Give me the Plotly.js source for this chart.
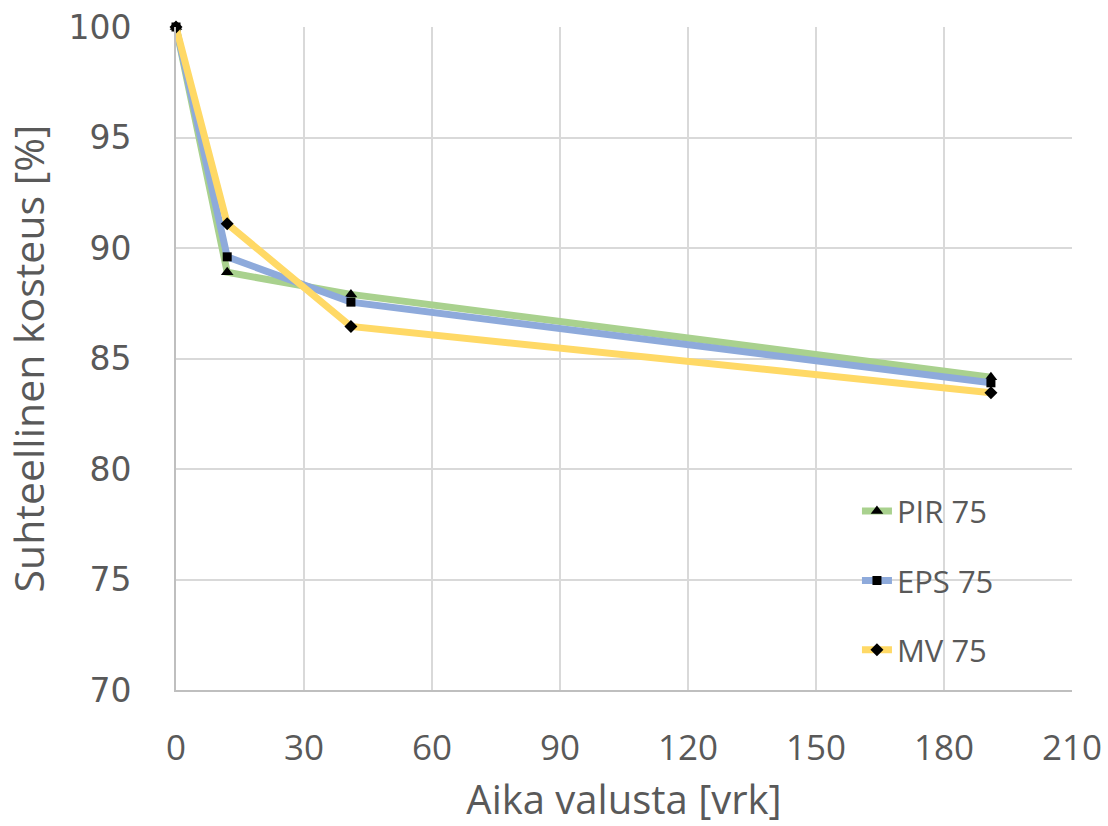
<!DOCTYPE html>
<html><head><meta charset="utf-8">
<script src="https://cdn.plot.ly/plotly-3.0.1.min.js"></script>
<style>html,body{margin:0;padding:0;background:#fff;}#chart{width:1108px;height:826px;}</style>
</head><body><div id="chart"></div>
<script>
const days = [0, 12, 41, 191];
const pir75 = [100, 88.9, 87.9, 84.15];
const eps75 = [100, 89.6, 87.55, 83.9];
const mv75 = [100, 91.1, 86.45, 83.45];
const seriesNames = ["PIR 75", "EPS 75", "MV 75"];
const xTicks = [0, 30, 60, 90, 120, 150, 180, 210];
const yTicks = [70, 75, 80, 85, 90, 95, 100];

const fnt = '"Open Sans", sans-serif';
const grey = '#595959';
function tr(y, name, color, symbol, size, g) {
  return {x: days, y: y, name: name, type: 'scatter', mode: 'lines+markers',
    legendgroup: g, cliponaxis: false,
    line: {color: color, width: 7},
    marker: {color: '#000', symbol: symbol, size: size}};
}
const data = [
  tr(pir75, seriesNames[0], '#a9d18e', 'triangle-up', 11, 'a'),
  tr(eps75, seriesNames[1], '#8eaadb', 'square', 9, 'b'),
  tr(mv75, seriesNames[2], '#ffd966', 'diamond', 10, 'c')
];
const layout = {
  width: 1108, height: 826,
  margin: {l: 176, r: 36, t: 27, b: 136},
  paper_bgcolor: '#fff', plot_bgcolor: '#fff',
  showlegend: true,
  legend: {x: 0.76, y: 0.31, xanchor: 'left', yanchor: 'top',
    font: {family: fnt, size: 31, color: grey}, tracegroupgap: 26,
    traceorder: 'grouped', bgcolor: 'rgba(0,0,0,0)'},
  xaxis: {range: [0, 210], tickvals: xTicks, ticktext: xTicks.map(String),
    showgrid: true, gridcolor: '#d9d9d9', gridwidth: 2,
    showline: true, linecolor: '#bfbfbf', linewidth: 2, zeroline: false,
    ticks: '', ticklabelstandoff: 26,
    tickfont: {family: fnt, size: 35, color: grey},
    title: {text: 'Aika valusta [vrk]', font: {family: fnt, size: 40, color: grey}, standoff: 18}},
  yaxis: {range: [70, 100], tickvals: yTicks, ticktext: yTicks.map(String),
    showgrid: true, gridcolor: '#d9d9d9', gridwidth: 2,
    showline: true, linecolor: '#bfbfbf', linewidth: 2, zeroline: false,
    ticks: '', ticklabelstandoff: 36,
    tickfont: {family: '"DejaVu Sans", sans-serif', size: 33, color: grey},
    title: {text: 'Suhteellinen kosteus [%]', font: {family: fnt, size: 41, color: grey}, standoff: 16}}
};
Plotly.newPlot('chart', data, layout, {displayModeBar: false, staticPlot: true});
</script></body></html>
